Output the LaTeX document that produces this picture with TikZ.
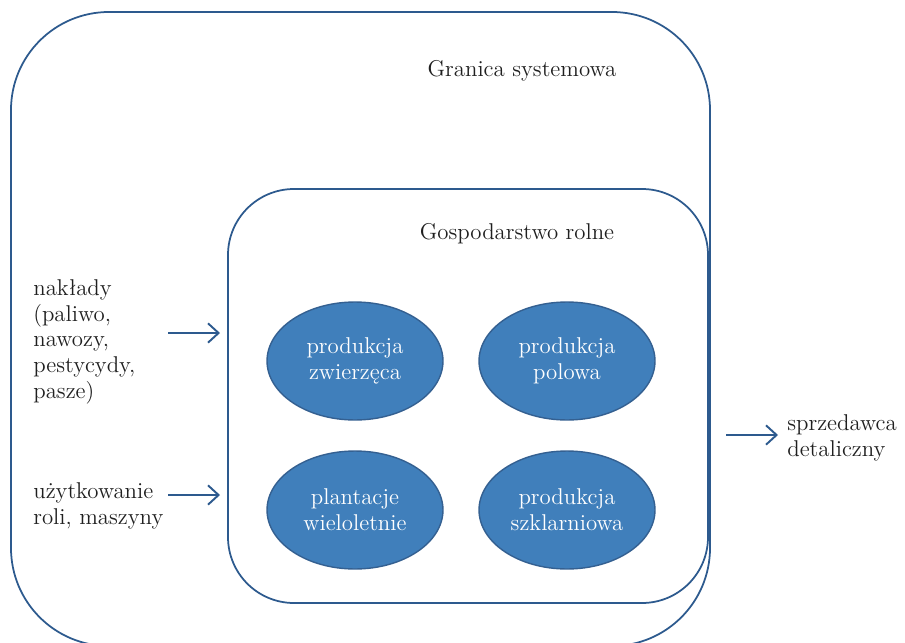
\documentclass[tikz,border=0pt]{standalone}
\usetikzlibrary{arrows.meta,shapes.geometric}
\definecolor{edge}{RGB}{45,90,142}
\definecolor{blobfill}{RGB}{64,127,187}
\definecolor{blobedge}{RGB}{52,96,145}
\tikzset{
  lbl/.style={font=\fontsize{13}{14.7}\selectfont, text=black!88, inner sep=0pt},
  side/.style={lbl, align=left, anchor=north west},
  blob/.style={ellipse, draw=blobedge, fill=blobfill, line width=0.8pt,
    minimum width=3.52cm, minimum height=2.36cm,
    text=white, align=center, font=\fontsize{13}{14.7}\selectfont},
  bound/.style={draw=edge, line width=1pt},
  flow/.style={draw=edge, line width=1.1pt, -{Straight Barb[length=6pt,width=11pt,line width=1.1pt]}}
}
\begin{document}
\begin{tikzpicture}[x=0.02cm,y=-0.02cm]
\useasboundingbox (0,0) rectangle (905,642);
\begin{scope}
\clip (0,0) rectangle (905,642);
\draw[bound, rounded corners=1.96cm] (11,12) rectangle (710,646);
\end{scope}
\draw[bound, rounded corners=1.32cm] (228,189) rectangle (708,603);
\node[lbl] (granica) at (522,71) {Granica systemowa};
\node[lbl] (gosp) at (517,234) {Gospodarstwo rolne};
\node[blob] (zw) at (355,361) {produkcja\\zwierzęca};
\node[blob] (pol) at (567,361) {produkcja\\polowa};
\node[blob] (pl) at (355,510) {plantacje\\wieloletnie};
\node[blob] (sz) at (567,510) {produkcja\\szklarniowa};
\node[side] (nak) at (33,279) {nakłady\\(paliwo,\\nawozy,\\pestycydy,\\pasze)};
\node[side] (uzyt) at (33,482) {użytkowanie\\roli, maszyny};
\node[side] (sprz) at (787,414) {sprzedawca\\detaliczny};
\coordinate (a1s) at (168,333);
\coordinate (a1e) at (220,333);
\coordinate (a2s) at (168,495);
\coordinate (a2e) at (220,495);
\coordinate (a3s) at (726,435);
\coordinate (a3e) at (778,435);
\draw[flow] (a1s) -- (a1e);
\draw[flow] (a2s) -- (a2e);
\draw[flow] (a3s) -- (a3e);
\end{tikzpicture}
\end{document}
